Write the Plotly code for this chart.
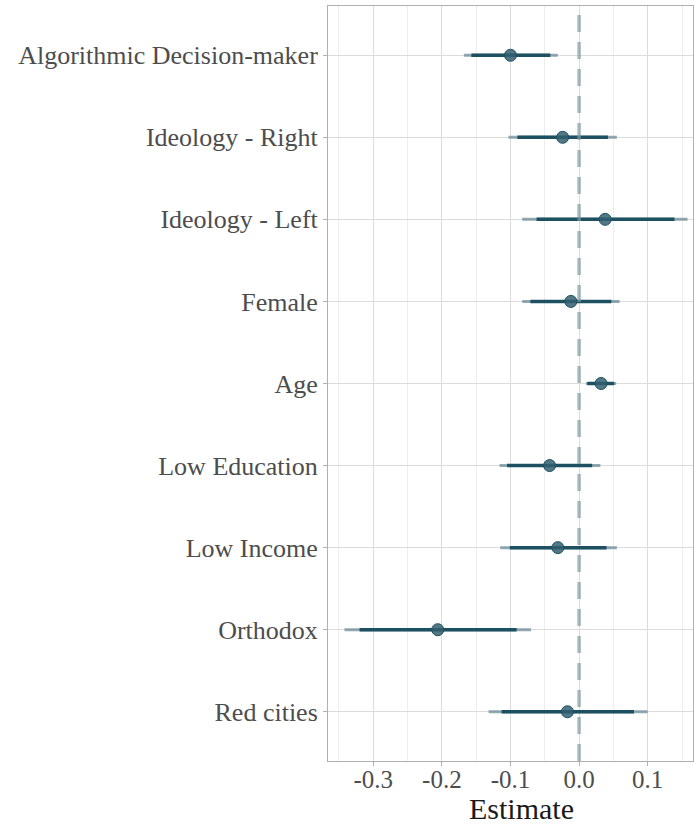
import plotly.graph_objects as go

# Coefficient estimates with two confidence levels (outer = wider band)
terms = ["Algorithmic Decision-maker", "Ideology - Right", "Ideology - Left",
         "Female", "Age", "Low Education", "Low Income", "Orthodox", "Red cities"]
estimate = [-0.100, -0.024, 0.038, -0.012, 0.032, -0.043, -0.031, -0.206, -0.017]
outer_lo = [-0.168, -0.103, -0.083, -0.083, 0.010, -0.116, -0.115, -0.342, -0.132]
outer_hi = [-0.031, 0.055, 0.158, 0.059, 0.054, 0.031, 0.055, -0.070, 0.100]
inner_lo = [-0.157, -0.090, -0.062, -0.071, 0.012, -0.105, -0.101, -0.320, -0.113]
inner_hi = [-0.042, 0.042, 0.139, 0.047, 0.051, 0.019, 0.040, -0.091, 0.080]
x_ticks = [-0.3, -0.2, -0.1, 0.0, 0.1]
x_tick_text = ["-0.3", "-0.2", "-0.1", "0.0", "0.1"]

n = len(terms)
ypos = list(range(n, 0, -1))

FONT = "Liberation Serif"
fig = go.Figure()

# zero reference line
fig.add_shape(type="line", x0=0, x1=0, y0=0, y1=1, xref="x", yref="paper",
              line=dict(color="rgba(130,155,162,0.7)", width=3.5, dash="17px,10px"),
              layer="above")

def segments(lo, hi):
    xs, ys = [], []
    for a, b, y in zip(lo, hi, ypos):
        xs += [a, b, None]
        ys += [y, y, None]
    return xs, ys

ox, oy = segments(outer_lo, outer_hi)
fig.add_trace(go.Scatter(x=ox, y=oy, mode="lines",
                         line=dict(color="rgba(110,140,152,0.75)", width=3),
                         hoverinfo="skip", showlegend=False))
ix, iy = segments(inner_lo, inner_hi)
fig.add_trace(go.Scatter(x=ix, y=iy, mode="lines",
                         line=dict(color="#1d5060", width=3.5),
                         hoverinfo="skip", showlegend=False))
fig.add_trace(go.Scatter(x=estimate, y=ypos, mode="markers",
                         marker=dict(size=12, color="rgba(52,95,112,0.85)",
                                     line=dict(color="#1d5060", width=1)),
                         showlegend=False))

fig.update_layout(
    width=694, height=827,
    margin=dict(l=328, r=1, t=6, b=66),
    paper_bgcolor="white", plot_bgcolor="white",
    font=dict(family=FONT, color="#4d4d4d"),
    showlegend=False,
    annotations=[dict(text="Estimate", x=(521 - 328) / (693 - 328), y=-0.088,
                      xref="x domain", yref="paper",
                      showarrow=False, yanchor="bottom",
                      font=dict(family=FONT, size=30, color="#1a1a1a"))],
)

fig.update_xaxes(
    range=[-0.366, 0.166],
    tickvals=x_ticks, ticktext=x_tick_text,
    tickfont=dict(family=FONT, size=25, color="#4d4d4d"),
    ticklabelstandoff=-8,
    showgrid=True, gridcolor="#dcdcdc", gridwidth=1,
    minor=dict(dtick=0.1, tick0=0.05, showgrid=True, gridcolor="#ededed", gridwidth=1, ticks=""),
    ticks="outside", ticklen=4, tickcolor="#b0b0b0",
    showline=True, linecolor="#b0b0b0", linewidth=1, mirror=True,
    zeroline=False,
)
fig.update_yaxes(
    range=[0.4, n + 0.6],
    tickvals=ypos, ticktext=terms,
    tickfont=dict(family=FONT, size=26, color="#4d4d4d"),
    showgrid=True, gridcolor="#dcdcdc", gridwidth=1,
    ticks="outside", ticklen=4, tickcolor="#b0b0b0",
    showline=True, linecolor="#b0b0b0", linewidth=1, mirror=True,
    zeroline=False,
)

fig.write_html("out.html")
